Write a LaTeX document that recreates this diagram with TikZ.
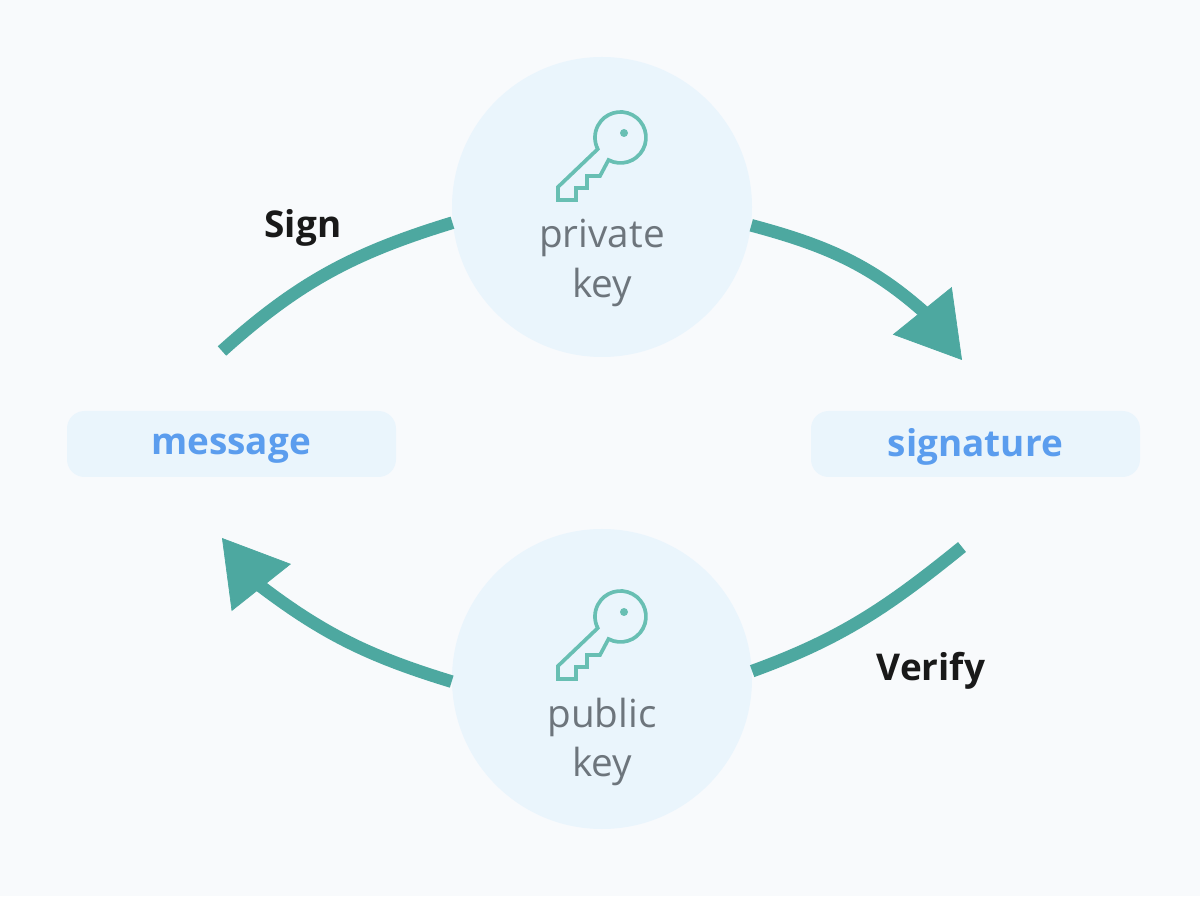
\documentclass[tikz,border=0pt]{standalone}
\usepackage{fontspec}
\setmainfont{Open Sans}
\usetikzlibrary{arrows.meta}
\definecolor{pagebg}{HTML}{F8FAFC}
\definecolor{softblue}{HTML}{EAF5FC}
\definecolor{flowteal}{HTML}{4DA8A0}
\definecolor{keyteal}{HTML}{68BFB3}
\definecolor{keygray}{HTML}{6D757C}
\definecolor{boxblue}{HTML}{5B9DEE}
\tikzset{
  keycircle/.style={circle,fill=softblue,minimum size=300*0.02cm,inner sep=0pt},
  textbox/.style={rectangle,rounded corners=10pt,fill=softblue,minimum width=329*0.02cm,minimum height=66*0.02cm,inner sep=0pt},
  boxlabel/.style={text=boxblue,font=\fontsize{21}{25}\selectfont\bfseries},
  keylabel/.style={text=keygray,font=\fontsize{22}{28}\selectfont,align=center},
  steplabel/.style={text=black!90,font=\fontsize{21}{25}\selectfont\bfseries},
  flow/.style={draw=flowteal,line width=7.2pt},
  flowtip/.style={draw=flowteal,fill=flowteal,line width=0.4pt,-{Triangle[length=36pt,width=43pt]}},
  keyicon/.pic={
    \draw[keyteal,line width=2.1pt,line join=miter] (-12,-22.5) arc[start angle=242,end angle=567,radius=25.5]
      -- (-62.5,-49.5) -- (-62.5,-62.5) -- (-44.5,-62.5) -- (-44.5,-50.5) -- (-33.5,-50.5)
      -- (-33.5,-38.5) -- (-20.5,-38.5) -- cycle;
    \fill[keyteal] (3.5,4.5) circle (4);
  }
}
\begin{document}
\begin{tikzpicture}[x=0.02cm,y=0.02cm]
  % Fondo
  \fill[pagebg] (0,0) rectangle (1200,896);
  \useasboundingbox (0,0) rectangle (1200,896);

  % Circulos de las llaves
  \node[keycircle] (private) at (602,689) {};
  \node[keycircle] (public) at (602,217) {};
  % Cajas
  \node[textbox] (message) at (231.5,452) {};
  \node[textbox] (signature) at (975.5,452) {};
  \node[boxlabel] (messagelabel) at (231,447) {message};
  \node[boxlabel] (signaturelabel) at (975.5,449) {signature};

  % Llaves
  \pic at (620.5,758.5) {keyicon};
  \pic at (620.5,279.5) {keyicon};
  \node[keylabel] (privatelabel) at (602,633) {private\\key};
  \node[keylabel] (publiclabel) at (602,154) {public\\key};

  % Extremos libres
  \coordinate (signstart) at (222,545);
  \coordinate (signend) at (935,574);
  \coordinate (signneck) at (912,598);
  \coordinate (signtip) at (962,536);
  \coordinate (verifystart) at (962,349);
  \coordinate (verifyend) at (250,318);
  \coordinate (verifyneck) at (272,295);
  \coordinate (verifytip) at (222,358);

  % Flechas
  \draw[flow] (signstart) to[out=42,in=197] (private.186);
  \draw[flow] (private.-7) to[out=-15,in=137] (signend);
  \draw[flowtip] (signneck) -- (signtip);
  \draw[flow] (verifystart) to[out=219,in=20] (public.3);
  \draw[flow] (public.181) to[out=163,in=-38] (verifyend);
  \draw[flowtip] (verifyneck) -- (verifytip);

  % Etiquetas
  \node[steplabel] (sign) at (303,668) {Sign};
  \node[steplabel] (verify) at (931,225) {Verify};
\end{tikzpicture}
\end{document}
